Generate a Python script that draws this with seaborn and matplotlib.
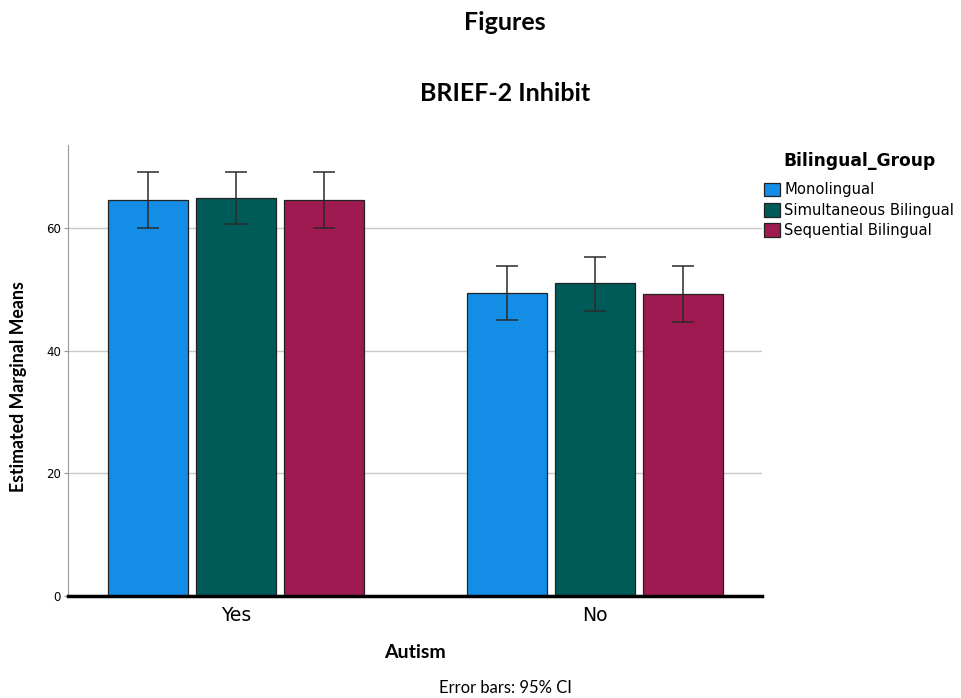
import pandas as pd
import matplotlib.pyplot as plt
import seaborn as sns

# Estimated marginal means
autism = ['Yes', 'No']
groups = ['Monolingual', 'Simultaneous Bilingual', 'Sequential Bilingual']
means_yes = [64.6, 64.9, 64.6]
means_no = [49.4, 51.1, 49.3]
ci_low_yes = [60.0, 60.7, 60.0]
ci_high_yes = [69.2, 69.2, 69.2]
ci_low_no = [45.0, 46.5, 44.7]
ci_high_no = [53.8, 55.3, 53.8]

colors = ['#138de6', '#005b58', '#9e1a50']

df = pd.DataFrame({
    'Autism': [a for a in autism for _ in groups],
    'Bilingual_Group': groups * 2,
    'Mean': means_yes + means_no,
    'Low': ci_low_yes + ci_low_no,
    'High': ci_high_yes + ci_high_no,
})

sns.set_style('white')
plt.rcParams['font.family'] = ['Lato', 'DejaVu Sans']
plt.rcParams['text.color'] = 'black'
plt.rcParams['axes.labelcolor'] = 'black'
plt.rcParams['xtick.color'] = 'black'
plt.rcParams['ytick.color'] = 'black'

fig = plt.figure(figsize=(9.62, 6.98), dpi=100)
ax = fig.add_axes([0.0707, 0.146, 0.7215, 0.646])

sns.barplot(data=df, x='Autism', y='Mean', hue='Bilingual_Group',
            order=autism, hue_order=groups, palette=colors,
            width=0.735, gap=0.09, edgecolor='#222222', linewidth=0.9,
            saturation=1, errorbar=None, ax=ax, zorder=2)

# error bars at the bar centres (patches come out hue by hue)
ordered = df.sort_values('Bilingual_Group', key=lambda s: s.map(groups.index), kind='stable')
for patch, (_, row) in zip(ax.patches, ordered.iterrows()):
    xc = patch.get_x() + patch.get_width() / 2
    ax.errorbar(xc, row['Mean'],
                yerr=[[row['Mean'] - row['Low']], [row['High'] - row['Mean']]],
                fmt='none', ecolor='#2a2a2a', elinewidth=1.1, capsize=8,
                capthick=1.1, zorder=3)

ax.set_xlim(-0.468, 1.465)
ax.set_ylim(0, 73.5)
ax.set_yticks([0, 20, 40, 60])
ax.yaxis.grid(True, color='#c8c8c8', linewidth=1, zorder=0)
ax.set_axisbelow(True)
for s in ['top', 'right']:
    ax.spines[s].set_visible(False)
ax.spines['left'].set_color('#999999')
ax.spines['left'].set_linewidth(0.8)
ax.spines['bottom'].set_color('black')
ax.spines['bottom'].set_linewidth(2.5)
ax.spines['bottom'].set_zorder(4)
ax.tick_params(axis='y', labelsize=8.5, length=3, color='#999999', left=True, pad=2)
ax.tick_params(axis='x', labelsize=13.5, length=0, pad=7)
for t in ax.get_xticklabels() + ax.get_yticklabels():
    t.set_family('DejaVu Sans')

ax.set_xlabel('Autism', fontsize=14, fontweight='bold', labelpad=14)
ax.set_ylabel('Estimated Marginal Means', fontsize=12.8, fontweight='bold')
ax.yaxis.set_label_coords(-0.059, 0.464)

fig.text(0.525, 0.968, 'Figures', ha='center', va='center', fontsize=18, fontweight='bold')
fig.text(0.525, 0.866, 'BRIEF-2 Inhibit', ha='center', va='center', fontsize=18, fontweight='bold')
fig.text(0.525, 0.014, 'Error bars: 95% CI', ha='center', va='center', fontsize=12)

leg = ax.legend(title='Bilingual_Group', loc='upper left', bbox_to_anchor=(1.0, 0.99),
                frameon=False, prop={'family': 'DejaVu Sans', 'size': 10.6},
                handlelength=1.05, handleheight=1.05, handletextpad=0.3,
                labelspacing=0.36, borderaxespad=0.0, borderpad=0.15)
leg.get_title().set_fontweight('bold')
leg.get_title().set_family('DejaVu Sans')
leg.get_title().set_fontsize(12.3)
leg._legend_box.sep = 9

fig.savefig('out.png', dpi=100)
